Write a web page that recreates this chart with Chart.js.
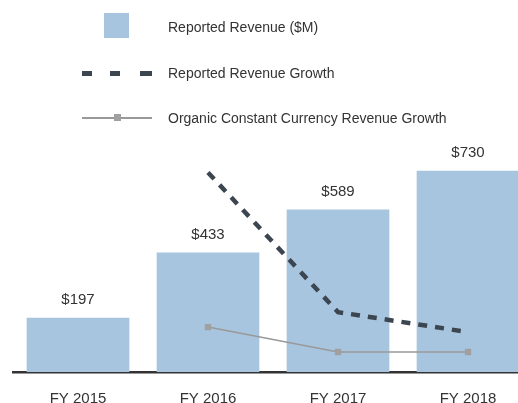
<!DOCTYPE html>
<html>
<head>
<meta charset="utf-8">
<script src="https://cdn.jsdelivr.net/npm/chart.js@4"></script>
<style>
  html, body { margin: 0; padding: 0; background: #fff; }
  #wrap { position: relative; width: 518px; height: 403px; overflow: hidden; font-family: "Liberation Sans", Arial, sans-serif; color: #333; }
  #myChart { position: absolute; left: 0; top: 0; }
  .lg { position: absolute; }
  .lg-text { position: absolute; left: 168px; height: 18px; line-height: 18px; font-size: 14px; white-space: nowrap; }
</style>
</head>
<body>
<div id="wrap">
  <canvas id="myChart" width="545" height="430"></canvas>

  <!-- legend -->
  <div class="lg" style="left:104px;top:13px;width:25px;height:25px;background:#a8c5e0;"></div>
  <div class="lg-text" style="top:18px;">Reported Revenue ($M)</div>

  <div class="lg" style="left:82px;top:71px;width:10px;height:5px;background:#3c4651;"></div>
  <div class="lg" style="left:110px;top:71px;width:10px;height:5px;background:#3c4651;"></div>
  <div class="lg" style="left:140px;top:71px;width:12px;height:5px;background:#3c4651;"></div>
  <div class="lg-text" style="top:64px;">Reported Revenue Growth</div>

  <div class="lg" style="left:82px;top:117px;width:70px;height:1.5px;background:#999;"></div>
  <div class="lg" style="left:114px;top:114px;width:7px;height:7px;background:#a0a0a0;"></div>
  <div class="lg-text" style="top:109px;">Organic Constant Currency Revenue Growth</div>
</div>

<script>
const labels = ['FY 2015', 'FY 2016', 'FY 2017', 'FY 2018'];
const revenue = [197, 433, 589, 730];
const reportedGrowth = [null, 120, 36, 24];
const organicGrowth = [null, 27, 12, 12];

const ctx = document.getElementById('myChart').getContext('2d');

// Draw "$xxx" above each bar
const barLabels = {
  id: 'barLabels',
  afterDatasetsDraw(chart) {
    const meta = chart.getDatasetMeta(2);
    const c = chart.ctx;
    c.save();
    c.font = '15px "Liberation Sans", Arial, sans-serif';
    c.fillStyle = '#333';
    c.textAlign = 'center';
    c.textBaseline = 'middle';
    meta.data.forEach((bar, i) => {
      c.fillText('$' + revenue[i], bar.x, bar.y - 18);
    });
    c.restore();
  }
};

const myChart = new Chart(ctx, {
  type: 'bar',
  data: {
    labels: labels,
    datasets: [
      {
        type: 'line',
        label: 'Reported Revenue Growth',
        data: reportedGrowth,
        yAxisID: 'y2',
        borderColor: '#3c4651',
        borderWidth: 4.5,
        borderDash: [9, 8],
        pointRadius: 0,
        tension: 0,
        fill: false,
        order: 0
      },
      {
        type: 'line',
        label: 'Organic Constant Currency Revenue Growth',
        data: organicGrowth,
        yAxisID: 'y2',
        borderColor: '#999',
        borderWidth: 1.5,
        pointStyle: 'rect',
        pointRadius: 4.5,
        pointBackgroundColor: '#a0a0a0',
        pointBorderWidth: 0,
        tension: 0,
        fill: false,
        order: 1
      },
      {
        label: 'Reported Revenue ($M)',
        data: revenue,
        yAxisID: 'y',
        backgroundColor: '#a8c5e0',
        barPercentage: 0.79,
        categoryPercentage: 1,
        order: 2
      }
    ]
  },
  options: {
    responsive: false,
    animation: false,
    layout: { padding: { left: 13, right: 12, top: 150, bottom: 4 } },
    plugins: {
      legend: { display: false },
      tooltip: { enabled: false }
    },
    scales: {
      x: {
        grid: { display: false, drawTicks: false },
        border: { display: true, color: '#333', width: 2.5 },
        ticks: {
          padding: 18,
          color: '#333',
          font: { size: 15, family: '"Liberation Sans", Arial, sans-serif' }
        }
      },
      y: { display: false, min: 0, max: 805 },
      y2: { display: false, position: 'right', min: 0, max: 133.5 }
    }
  },
  plugins: [barLabels]
});
</script>
</body>
</html>
